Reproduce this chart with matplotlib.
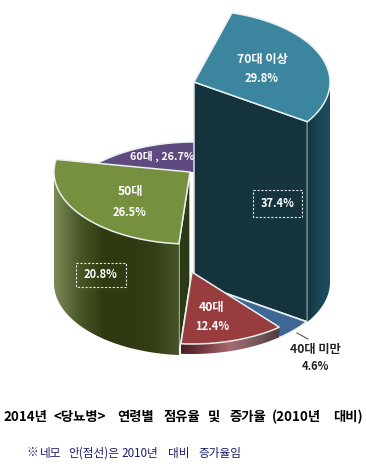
import numpy as np
import matplotlib
matplotlib.use("Agg")
import matplotlib.pyplot as plt
from matplotlib.colors import LinearSegmentedColormap
from matplotlib.patches import Polygon, Rectangle

plt.rcParams['font.family'] = ['Noto Sans CJK KR', 'DejaVu Sans']

# shares in pie order, clockwise from the back
ages = ['70대 이상', '40대 미만', '40대', '50대', '60대']
shares = [29.8, 4.6, 12.4, 26.5, 26.7]
growth = [37.4, None, None, 20.8, None]
title = '2014년 <당뇨병> 연령별 점유율 및 증가율 (2010년 대비)'
note = '※ 네모 안(점선)은 2010년 대비 증가율임'

# the original caption is widely spaced, so each word gets its own x
title_x = [3, 53, 117, 163, 208, 230, 272, 333]
note_x = [26, 40, 68, 121, 168, 198]

RX, RY = 136, 72
START = 73.8
PX_PER_PCT = 5.35

# where each slice's apex sits, slices are pulled apart and lifted
apex = {'70대 이상': (194, 82), '40대 미만': (193, 282), '40대': (192, 272),
        '50대': (190, 172), '60대': (194, 214)}
top_col = {'70대 이상': '#3b859e', '40대 미만': '#3f6796', '40대': '#983c3e',
           '50대': '#76903f', '60대': '#5f4a80'}

edges = START - np.cumsum([0] + shares) * 3.6
angles = {a: (edges[i], edges[i + 1]) for i, a in enumerate(ages)}


def arc(name, t0, t1, drop=0):
    cx, cy = apex[name]
    t = np.radians(np.linspace(t0, t1, 80))
    return np.column_stack([cx + RX * np.cos(t), cy - RY * np.sin(t) + drop])


def top_face(name, zorder):
    t0, t1 = angles[name]
    pts = np.vstack([apex[name], arc(name, t0, t1)])
    ax.add_patch(Polygon(pts, closed=True, fc=top_col[name], ec='#e8f0f0', lw=1.1, zorder=zorder))


def side_face(name, t0, t1, drop, colors, zorder):
    up = arc(name, t0, t1)
    low = arc(name, t0, t1, drop)
    pts = np.vstack([up, low[::-1]])
    patch = Polygon(pts, closed=True, fc='none', ec='none', zorder=zorder)
    ax.add_patch(patch)
    cmap = LinearSegmentedColormap.from_list('side', colors)
    x0, x1 = pts[:, 0].min(), pts[:, 0].max()
    y0, y1 = pts[:, 1].min(), pts[:, 1].max()
    im = ax.imshow(np.linspace(0, 1, 256)[None, :], cmap=cmap, extent=(x0, x1, y1, y0),
                   aspect='auto', zorder=zorder, interpolation='bilinear')
    im.set_clip_path(patch)


fig = plt.figure(figsize=(3.66, 4.7), dpi=100)
ax = fig.add_axes([0, 0, 1, 1])

# 60s sits at the very back
top_face('60대', 1)

# 50s
h50 = growth[ages.index('50대')] * PX_PER_PCT
t0, t1 = angles['50대']
cx, cy = apex['50대']
corner = arc('50대', t0, t0 + 0.01)[0]
ax.add_patch(Polygon([apex['50대'], corner, corner + [0, h50], (cx, cy + h50)], closed=True,
                     fc='#2b3a14', ec='#e8f0f0', lw=1, zorder=2))
side_face('50대', -180, t0, h50,
          ['#7c8a58', '#4a5828', '#303a12', '#2f3a12', '#343f16', '#46542a'], 3)
top_face('50대', 4)

# white gap between the 50s cut and the 70+ block, hides the 60s apex
ax.plot([192, 192], [172, 285], color='white', lw=3, zorder=4.5, solid_capstyle='butt')

# 70+
h70 = growth[ages.index('70대 이상')] * PX_PER_PCT
t0, t1 = angles['70대 이상']
cx, cy = apex['70대 이상']
corner = arc('70대 이상', t1, t1 + 0.01)[0]
ax.add_patch(Polygon([apex['70대 이상'], corner, corner + [0, h70], (cx, cy + h70)], closed=True,
                     fc='#14333d', ec='#d5e5e8', lw=1.1, zorder=5))
side_face('70대 이상', t1, 0, h70, ['#12333f', '#1a4656', '#1c4c5c'], 5)
top_face('70대 이상', 6)

# under 40 and 40s lie on the floor in front
top_face('40대 미만', 7)
t0, t1 = angles['40대']
side_face('40대', t0, t1, 10, ['#4a1c24', '#7a3c44', '#a66a70', '#7a5a5e', '#4c3c40'], 8)
top_face('40대', 9)

# dashed boxes with growth rates
for box, val in [((253, 190, 49, 27), growth[0]), ((76, 263, 50, 24), growth[3])]:
    ax.add_patch(Rectangle(box[:2], box[2], box[3], fc='none', ec='#e0e8e8', lw=0.8,
                           ls=(0, (2, 1.5)), zorder=10))
    ax.text(box[0] + box[2] / 2, box[1] + box[3] / 2, '%.1f%%' % val, color='white', fontsize=8,
            fontweight='bold', ha='center', va='center', zorder=11)

labels = [(262, 59, 78, 0), (315, 349, 367, 1), (212, 308, 327, 2), (130, 192, 212, 3)]
for x, y1, y2, i in labels:
    col = '#222222' if i == 1 else 'white'
    ax.text(x, y1, ages[i], color=col, fontsize=8.8, fontweight='bold', ha='center', va='center', zorder=11)
    ax.text(x, y2, '%.1f%%' % shares[i], color=col, fontsize=8, fontweight='bold',
            ha='center', va='center', zorder=11)
ax.text(162, 156, '60대 , %.1f%%' % shares[4], color='white', fontsize=7.8, fontweight='bold',
        ha='center', va='center', zorder=3)
ax.plot([297, 308], [333, 339], color='#555555', lw=0.8, zorder=11)

for word, x in zip(title.split(' '), title_x):
    ax.text(x, 417, word, color='black', fontsize=9.6, fontweight='bold', ha='left', va='center')
for word, x in zip(note.split(' '), note_x):
    ax.text(x, 453, word, color='#1c1c6e', fontsize=8.4, ha='left', va='center')

ax.set_xlim(0, 366)
ax.set_ylim(470, 0)
ax.axis('off')
fig.savefig('out.png', dpi=100)
